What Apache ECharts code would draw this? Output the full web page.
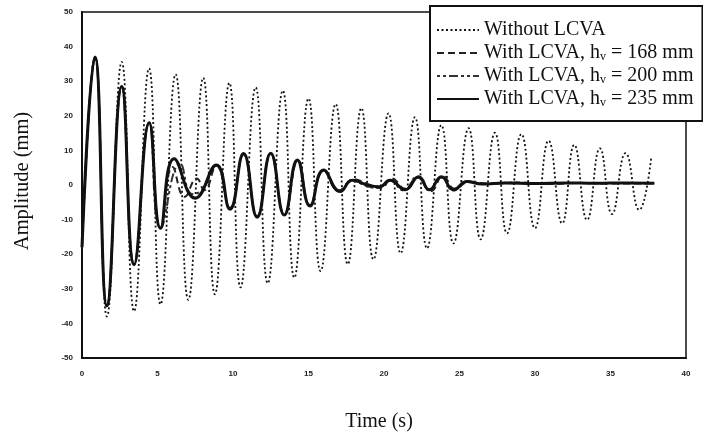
<!DOCTYPE html>
<html>
<head>
<meta charset="utf-8">
<script src="https://cdn.jsdelivr.net/npm/echarts@6/dist/echarts.min.js"></script>
<style>
html,body{margin:0;padding:0;background:#fff;}
#chart{width:703px;height:436px;}
</style>
</head>
<body>
<div id="chart"></div>
<script>
// Tick settings
const xTicks = [0, 5, 10, 15, 20, 25, 30, 35, 40];
const yTicks = [-50, -40, -30, -20, -10, 0, 10, 20, 30, 40, 50];

const seriesNames = [
  'Without LCVA',
  'With LCVA, hv = 168 mm',
  'With LCVA, hv = 200 mm',
  'With LCVA, hv = 235 mm'
];

// Without LCVA (time s, amplitude mm) - extrema
const withoutT = [0, 0.86, 1.65, 2.63, 3.45, 4.44, 5.2, 6.2, 7.04, 8.03, 8.8, 9.76, 10.5, 11.5, 12.3, 13.3, 14.06, 15.0, 15.8, 16.8, 17.6, 18.5, 19.3, 20.3, 21.1, 22.05, 22.85, 23.8, 24.6, 25.6, 26.4, 27.35, 28.15, 29.1, 30.0, 30.9, 31.8, 32.6, 33.45, 34.3, 35.1, 36.0, 36.9, 37.7];
const withoutV = [-18, 37, -38, 35.6, -36.5, 33.7, -34.5, 32, -33.2, 31, -31.6, 29.5, -29.6, 28.2, -28.4, 27.3, -26.8, 25, -24.9, 23.4, -22.9, 22.2, -21.5, 20.7, -19.7, 19.6, -18.3, 17.3, -16.9, 16.4, -15.7, 15.1, -14, 14.7, -12.5, 12.8, -11.1, 11.6, -10.1, 10.6, -8.4, 9.2, -7.2, 8.0];

// With LCVA, hv = 168 mm
const h168T = [0, 0.86, 1.65, 2.63, 3.45, 4.45, 5.2, 6.0, 6.8, 7.6, 8.1, 8.9, 9.8, 10.7, 11.6, 12.5, 13.4, 14.3, 15.1, 16.0, 17.0, 18.0, 18.9, 19.8, 20.5, 21.4, 22.2, 23.1, 23.9, 24.7, 25.6, 27.0, 29.0, 31.0, 33.0, 35.0, 37.9];
const h168V = [-18, 37, -35, 28.5, -23, 18, -12.5, 5.2, -3.4, 1.9, -1.5, 5.6, -6.6, 8.8, -9.0, 9.0, -8.4, 7.0, -5.8, 4.1, -1.6, 1.7, 0.3, -0.9, 1.9, -1.1, 2.2, -1.8, 2.6, -1.1, 0.8, 0.4, 0.7, 0.3, 0.6, 0.4, 0.5];

// With LCVA, hv = 200 mm
const h200T = [0, 0.86, 1.65, 2.63, 3.45, 4.45, 5.2, 6.5, 7.3, 8.0, 8.9, 9.8, 10.7, 11.6, 12.5, 13.4, 14.3, 15.1, 16.0, 17.1, 17.9, 18.8, 19.6, 20.4, 21.3, 22.2, 23.0, 23.8, 24.6, 25.5, 26.8, 28.5, 30.5, 32.5, 34.5, 36.5, 37.9];
const h200V = [-18, 37, -35, 28.5, -23, 18, -12.5, 6.2, -2.6, -1.2, 5.8, -6.8, 9.0, -9.2, 9.1, -8.6, 7.1, -6.0, 4.2, -1.8, 1.2, -0.2, -0.9, 1.2, -1.6, 2.4, -1.2, 2.2, -1.6, 1.0, 0.3, 0.7, 0.4, 0.6, 0.5, 0.6, 0.5];

// With LCVA, hv = 235 mm
const h235T = [0, 0.86, 1.65, 2.63, 3.45, 4.45, 5.2, 6.1, 7.5, 8.9, 9.8, 10.7, 11.6, 12.5, 13.4, 14.26, 15.1, 16.0, 17.1, 17.9, 18.9, 19.7, 20.4, 21.4, 22.3, 23.0, 23.8, 24.6, 25.5, 26.5, 28.0, 30.0, 32.0, 34.0, 36.0, 37.9];
const h235V = [-18, 37, -35, 28.5, -23, 18, -12.5, 7.6, -3.8, 5.8, -7.0, 9.1, -9.3, 9.2, -8.7, 7.2, -6.1, 4.3, -1.9, 1.4, 0.0, -0.5, 1.4, -1.4, 2.4, -1.4, 2.4, -1.4, 1.0, 0.3, 0.6, 0.4, 0.6, 0.5, 0.6, 0.5];

function pairs(t, v) { return t.map((x, i) => [x, v[i]]); }

const chart = echarts.init(document.getElementById('chart'), null, { renderer: 'canvas' });

const serif = 'Liberation Serif';
const tickFont = { fontFamily: 'Liberation Sans', fontSize: 8, fontWeight: 'bold', color: '#222' };

chart.setOption({
  backgroundColor: '#fff',
  animation: false,
  grid: { left: 82, right: 17, top: 12, bottom: 78, show: true, borderColor: '#111', borderWidth: 1.5, backgroundColor: 'transparent', outerBoundsMode: 'none', containLabel: false },
  xAxis: {
    type: 'value', min: xTicks[0], max: xTicks[xTicks.length - 1], interval: 5,
    name: 'Time (s)', nameLocation: 'middle', nameGap: 54,
    nameTextStyle: { fontFamily: serif, fontSize: 20, color: '#111', padding: [0, 10, 0, 0] },
    axisLine: { show: true, onZero: false, lineStyle: { color: '#111', width: 2 } },
    axisTick: { show: false },
    splitLine: { show: false },
    axisLabel: Object.assign({ margin: 12 }, tickFont)
  },
  yAxis: {
    type: 'value', min: yTicks[0], max: yTicks[yTicks.length - 1], interval: 10,
    name: 'Amplitude (mm)', nameLocation: 'middle', nameGap: 49, nameRotate: 90,
    nameTextStyle: { fontFamily: serif, fontSize: 20.5, color: '#111', padding: [0, 0, 0, 8] },
    axisLine: { show: true, lineStyle: { color: '#111', width: 2 } },
    axisTick: { show: false },
    splitLine: { show: false },
    axisLabel: Object.assign({ margin: 9 }, tickFont)
  },
  legend: {
    orient: 'vertical', left: 430, top: 6,
    backgroundColor: '#fff', borderColor: '#111', borderWidth: 2,
    padding: [14, 9, 12, 6],
    itemWidth: 42, itemHeight: 12, itemGap: 3,
    itemStyle: { opacity: 0 },
    data: seriesNames,
    formatter: function (name) { return name.replace('hv', 'h{s|v}'); },
    textStyle: {
      fontFamily: serif, fontSize: 20, color: '#111', lineHeight: 20,
      rich: { s: { fontFamily: serif, fontSize: 12, lineHeight: 12, verticalAlign: 'bottom', color: '#111' } }
    }
  },
  series: [
    {
      name: seriesNames[0], type: 'line', data: pairs(withoutT, withoutV),
      smooth: 0.5, showSymbol: false, symbol: 'none', z: 2,
      lineStyle: { color: '#111', width: 1.8, type: [2, 2.5] }
    },
    {
      name: seriesNames[1], type: 'line', data: pairs(h168T, h168V),
      smooth: 0.5, showSymbol: false, symbol: 'none', z: 3,
      lineStyle: { color: '#222', width: 2, type: [7, 4] }
    },
    {
      name: seriesNames[2], type: 'line', data: pairs(h200T, h200V),
      smooth: 0.5, showSymbol: false, symbol: 'none', z: 4,
      lineStyle: { color: '#333', width: 2, type: [3, 3, 3, 3, 9, 3] }
    },
    {
      name: seriesNames[3], type: 'line', data: pairs(h235T, h235V),
      smooth: 0.5, showSymbol: false, symbol: 'none', z: 5,
      lineStyle: { color: '#111', width: 3, type: 'solid' }
    }
  ]
});
</script>
</body>
</html>
